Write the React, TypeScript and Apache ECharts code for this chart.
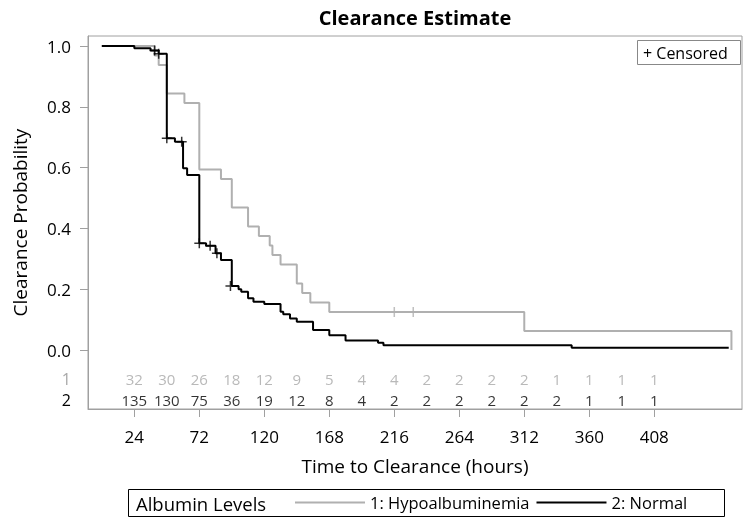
import React, { useEffect, useRef } from "react";
import * as echarts from "echarts";

// Kaplan-Meier style step data (hours, probability)
const hypoTimes = [0, 39, 42, 48, 61, 72, 88, 96, 108, 116, 124, 126, 132, 144, 148, 154, 168, 312, 465];
const hypoSurv = [1.0, 0.969, 0.938, 0.844, 0.8125, 0.594, 0.5625, 0.469, 0.406, 0.375, 0.344, 0.3125, 0.281, 0.219, 0.1875, 0.156, 0.125, 0.0625, 0.0];
const normTimes = [0, 24, 36, 42, 48, 54, 60, 63, 72, 77, 84, 88, 96, 101, 103, 108, 112, 120, 132, 134, 139, 144, 156, 168, 180, 204, 208, 347, 463];
const normSurv = [1.0, 0.993, 0.985, 0.975, 0.697, 0.685, 0.598, 0.576, 0.351, 0.343, 0.318, 0.296, 0.211, 0.2, 0.192, 0.17, 0.159, 0.151, 0.126, 0.118, 0.104, 0.093, 0.066, 0.049, 0.031, 0.024, 0.016, 0.0075, 0.0075];

// censored observations
const hypoCensorT = [216, 230];
const hypoCensorS = [0.125, 0.125];
const normCensorT = [39, 42, 48, 59, 72, 80, 85, 95];
const normCensorS = [0.985, 0.975, 0.697, 0.685, 0.351, 0.343, 0.318, 0.211];

// numbers at risk
const riskTimes = [24, 48, 72, 96, 120, 144, 168, 192, 216, 240, 264, 288, 312, 336, 360, 384, 408];
const riskHypo = [32, 30, 26, 18, 12, 9, 5, 4, 4, 2, 2, 2, 2, 1, 1, 1, 1];
const riskNorm = [135, 130, 75, 36, 19, 12, 8, 4, 2, 2, 2, 2, 2, 2, 1, 1, 1];

const xTicks = [24, 72, 120, 168, 216, 264, 312, 360, 408];
const yTicks = [0, 0.2, 0.4, 0.6, 0.8, 1.0];
const ROW1 = -0.095;
const ROW2 = -0.164;

const GREY = "#b0b0b0";
const FRAME = "#a0a0a0";
const FONT = "'Open Sans', 'Noto Sans', sans-serif";

const zip = (a: number[], b: number[]) => a.map((v, i) => [v, b[i]]);

export default function App() {
  const ref = useRef<HTMLDivElement>(null);
  useEffect(() => {
    if (!ref.current) return;
    const chart = echarts.init(ref.current, undefined, { renderer: "svg" });
    const crossPath = "path://M5,0 L5,10 M0,5 L10,5";
    chart.setOption({
      animation: false,
      textStyle: { fontFamily: FONT },
      grid: {
        left: 88,
        right: 12,
        top: 36,
        bottom: 116,
        show: true,
        borderColor: FRAME,
        borderWidth: 1,
        containLabel: false,
      },
      xAxis: {
        type: "value",
        min: -10.2,
        max: 472.8,
        name: "Time to Clearance (hours)",
        nameLocation: "middle",
        nameGap: 47,
        nameTextStyle: { fontSize: 19, color: "#000", fontFamily: FONT },
        axisLine: { show: true, onZero: false, lineStyle: { color: FRAME } },
        axisTick: { show: true, length: 8, lineStyle: { color: FRAME }, customValues: xTicks },
        axisLabel: { show: true, fontSize: 17, color: "#000", margin: 19, customValues: xTicks },
        splitLine: { show: false },
      },
      yAxis: {
        type: "value",
        min: -0.194,
        max: 1.033,
        name: "Clearance Probability",
        nameLocation: "middle",
        nameGap: 59,
        nameRotate: 90,
        nameTextStyle: { fontSize: 19, color: "#000", fontFamily: FONT },
        axisLine: { show: true, onZero: false, lineStyle: { color: FRAME } },
        axisTick: { show: true, length: 8, lineStyle: { color: FRAME }, customValues: yTicks },
        axisLabel: {
          show: true,
          fontSize: 17,
          color: "#000",
          margin: 17,
          customValues: [...yTicks, ROW1, ROW2],
          formatter: (v: number) => {
            if (v < -0.01) return v > -0.13 ? "{g|1}" : "{k|2}";
            return v.toFixed(1);
          },
          rich: {
            g: { color: "#a8a8a8", fontSize: 16, fontFamily: FONT },
            k: { color: "#000", fontSize: 16, fontFamily: FONT },
          },
        },
        splitLine: { show: false },
      },
      legend: {
        data: [
          { name: "1: Hypoalbuminemia", icon: "rect", itemStyle: { color: GREY } },
          { name: "2: Normal", icon: "rect", itemStyle: { color: "#000" } },
        ],
        left: 295,
        top: 494,
        padding: 0,
        itemWidth: 70,
        itemHeight: 2,
        itemGap: 7,
        textStyle: { fontSize: 16.5, color: "#000", fontFamily: FONT },
      },
      graphic: [
        {
          type: "text",
          x: 415,
          y: 17,
          style: {
            text: "Clearance Estimate",
            align: "center",
            verticalAlign: "middle",
            fontSize: 20,
            fontWeight: "bold",
            fontFamily: FONT,
            fill: "#000",
          },
        },
        {
          type: "rect",
          shape: { x: 637.5, y: 40.5, width: 103, height: 24 },
          style: { fill: "none", stroke: "#888", lineWidth: 1 },
        },
        {
          type: "text",
          x: 643,
          y: 52.5,
          style: {
            text: "+ Censored",
            align: "left",
            verticalAlign: "middle",
            fontSize: 16,
            fontFamily: FONT,
            fill: "#000",
          },
        },
        {
          type: "rect",
          shape: { x: 128.5, y: 489.5, width: 596, height: 27 },
          style: { fill: "none", stroke: "#000", lineWidth: 1 },
        },
        {
          type: "text",
          x: 136,
          y: 503,
          style: {
            text: "Albumin Levels",
            align: "left",
            verticalAlign: "middle",
            fontSize: 18.5,
            fontFamily: FONT,
            fill: "#000",
          },
        },
      ],
      series: [
        {
          name: "1: Hypoalbuminemia",
          type: "line",
          step: "end",
          symbol: "none",
          data: zip(hypoTimes, hypoSurv),
          lineStyle: { color: GREY, width: 2 },
          itemStyle: { color: GREY },
          z: 2,
        },
        {
          name: "2: Normal",
          type: "line",
          step: "end",
          symbol: "none",
          data: zip(normTimes, normSurv),
          lineStyle: { color: "#000", width: 2 },
          itemStyle: { color: "#000" },
          z: 3,
        },
        {
          name: "cens1",
          type: "scatter",
          symbol: crossPath,
          symbolSize: 10,
          data: zip(hypoCensorT, hypoCensorS),
          itemStyle: { color: "none", borderColor: GREY, borderWidth: 1.5 },
          z: 4,
        },
        {
          name: "cens2",
          type: "scatter",
          symbol: crossPath,
          symbolSize: 10,
          data: zip(normCensorT, normCensorS),
          itemStyle: { color: "none", borderColor: "#000", borderWidth: 1.5 },
          z: 5,
        },
        {
          name: "risk1",
          type: "scatter",
          symbolSize: 0,
          data: riskTimes.map((t, i) => [t, ROW1, riskHypo[i]]),
          label: {
            show: true,
            position: "inside",
            formatter: (p: any) => String(p.value[2]),
            fontSize: 15,
            color: "#a8a8a8",
            fontFamily: FONT,
          },
        },
        {
          name: "risk2",
          type: "scatter",
          symbolSize: 0,
          data: riskTimes.map((t, i) => [t, ROW2, riskNorm[i]]),
          label: {
            show: true,
            position: "inside",
            formatter: (p: any) => String(p.value[2]),
            fontSize: 15,
            color: "#000",
            fontFamily: FONT,
          },
        },
      ],
    });
    return () => chart.dispose();
  }, []);
  return <div ref={ref} style={{ position: "fixed", left: 0, top: 0, width: 754, height: 525 }} />;
}
